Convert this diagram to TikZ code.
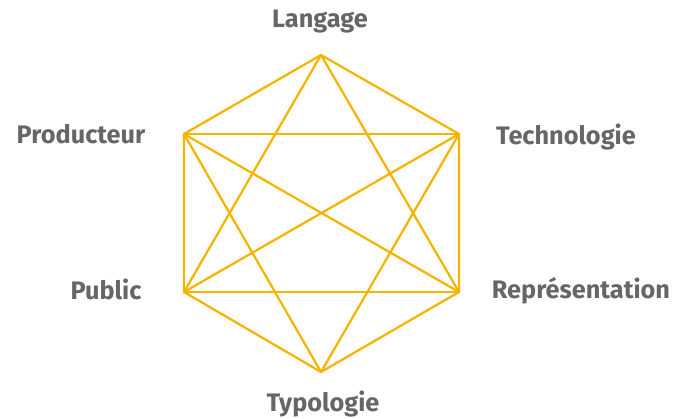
\documentclass[tikz,border=0pt]{standalone}
\usepackage{fontspec}
\setmainfont{Fira Sans}
\usepackage{xcolor}
\usepackage{tikz}
\usetikzlibrary{positioning, calc}

\definecolor{hexgold}{HTML}{F5B400}
\definecolor{labgray}{HTML}{666666}

\begin{document}
\begin{tikzpicture}[
  edge/.style  = {draw=hexgold, line width=1.6pt, line cap=round, line join=round},
  lab/.style   = {font=\fontsize{18}{20}\selectfont\bfseries, text=labgray,
                  inner sep=0pt},
]

\useasboundingbox (0,0) rectangle (16.875,10.475);

%% hexagon corners
\coordinate (lang) at ( 8.025, 9.100);
\coordinate (tech) at (11.475, 7.125);
\coordinate (repr) at (11.475, 3.175);
\coordinate (typo) at ( 8.025, 1.175);
\coordinate (publ) at ( 4.600, 3.175);
\coordinate (prod) at ( 4.600, 7.125);

%% outline
\draw[edge] (lang) -- (tech) -- (repr) -- (typo) -- (publ) -- (prod) -- cycle;

%% the two triangles and the crossing diagonals
\foreach \a/\b in {lang/repr, repr/publ, publ/lang,
                   typo/prod, prod/tech, tech/typo,
                   prod/repr, tech/publ}{
  \draw[edge] (\a) -- (\b);
}

%% labels
\node[lab] (llang) at ( 8.000, 9.925) {Langage};
\node[lab] (ltech) at (14.150, 7.050) {Technologie};
\node[lab] (lrepr) at (14.525, 3.200) {Représentation};
\node[lab] (ltypo) at ( 8.075, 0.375) {Typologie};
\node[lab] (lpubl) at ( 2.650, 3.250) {Public};
\node[lab] (lprod) at ( 2.025, 7.125) {Producteur};

\end{tikzpicture}
\end{document}
